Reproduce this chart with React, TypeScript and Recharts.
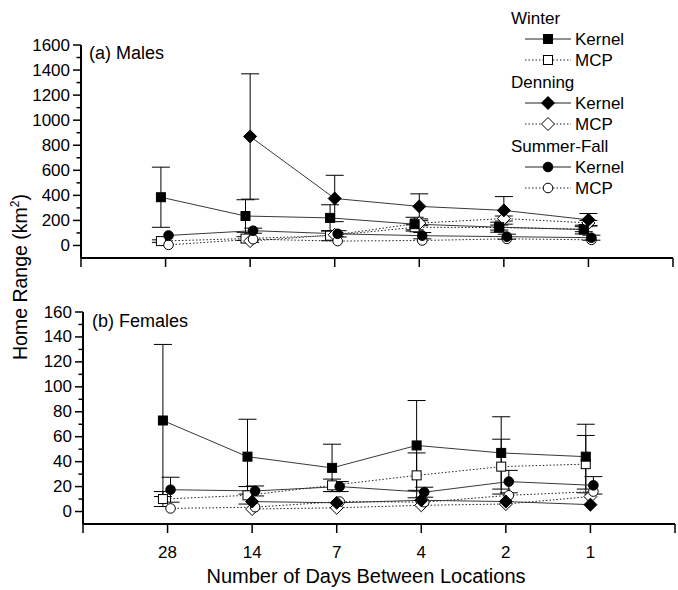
import React from 'react';
import { LineChart, Line, XAxis, YAxis, ErrorBar } from 'recharts';

// ---------- data ----------
const categories = ['28', '14', '7', '4', '2', '1'];
const xTicks = [0, 1, 2, 3, 4, 5, 6, 7];

const maleYTicks = [0, 100, 200, 300, 400, 500, 600, 700, 800, 900, 1000, 1100, 1200, 1300, 1400, 1500, 1600];
const femaleYTicks = [0, 10, 20, 30, 40, 50, 60, 70, 80, 90, 100, 110, 120, 130, 140, 150, 160];

// Males
const maleWinterKernel = [385, 235, 220, 170, 146, 127];
const maleWinterKernelErr = [240, 130, 105, 55, 40, 35];
const maleWinterMCP = [35, 55, 78, 145, 143, 130];
const maleWinterMCPErr = [10, 15, 40, 20, 20, 20];
const maleDenningKernel = [null, 870, 375, 312, 280, 205];
const maleDenningKernelErr = [0, 500, 185, 100, 110, 50];
const maleDenningMCP = [null, 35, 85, 178, 215, 180];
const maleDenningMCPErr = [0, 10, 15, 20, 20, 20];
const maleSummerKernel = [80, 118, 93, 78, 70, 62];
const maleSummerKernelErr = [0, 20, 25, 25, 20, 20];
const maleSummerMCP = [5, 50, 35, 40, 53, 45];
const maleSummerMCPErr = [0, 0, 0, 0, 0, 0];

// Females
const femaleWinterKernel = [73, 44, 35, 53, 47, 44];
const femaleWinterKernelErr = [61, 30, 19, 36, 29, 26];
const femaleWinterMCP = [10, 13, 21, 29, 36, 38];
const femaleWinterMCPErr = [6, 7, 5, 18, 22, 23];
const femaleDenningKernel = [null, 8, 7, 9, 8, 5.5];
const femaleDenningKernelErr = [0, 0, 0, 0, 0, 0];
const femaleDenningMCP = [null, 2, 3, 5, 6, 12];
const femaleDenningMCPErr = [0, 0, 0, 0, 0, 0];
const femaleSummerKernel = [17.5, 16.5, 20, 15.5, 24, 21];
const femaleSummerKernelErr = [10, 4, 4, 4, 9, 7];
const femaleSummerMCP = [2.5, 3.5, 8, 7.5, 13, 16];
const femaleSummerMCPErr = [0, 0, 0, 0, 0, 0];

// ---------- styles ----------
const FONT = 'Arial, "Liberation Sans", Helvetica, sans-serif';
const seasonOffset = { winter: -0.055, denning: 0, summer: 0.035 };

type Shape = 'square' | 'diamond' | 'circle';

const Marker = ({ cx, cy, shape, filled }: { cx: number; cy: number; shape: Shape; filled: boolean }) => {
  if (cx == null || cy == null || isNaN(cx) || isNaN(cy)) return null;
  const fill = filled ? '#000' : '#fff';
  const stroke = '#000';
  if (shape === 'square') {
    const s = 9;
    return <rect x={cx - s / 2} y={cy - s / 2} width={s} height={s} fill={fill} stroke={stroke} strokeWidth={1} />;
  }
  if (shape === 'diamond') {
    const s = 6.5;
    return (
      <polygon
        points={`${cx},${cy - s} ${cx + s},${cy} ${cx},${cy + s} ${cx - s},${cy}`}
        fill={fill}
        stroke={stroke}
        strokeWidth={1}
      />
    );
  }
  return <circle cx={cx} cy={cy} r={4.8} fill={fill} stroke={stroke} strokeWidth={1} />;
};

const build = (vals: (number | null)[], errs: number[], off: number) =>
  vals
    .map((v, i) => (v == null ? null : { x: i + 1 + off, y: v, e: errs[i] }))
    .filter((d) => d !== null) as { x: number; y: number; e: number }[];

type SeriesDef = {
  name: string;
  data: { x: number; y: number; e: number }[];
  shape: Shape;
  filled: boolean;
  dashed: boolean;
};

const makeSeries = (
  wk: (number | null)[], wke: number[], wm: (number | null)[], wme: number[],
  dk: (number | null)[], dke: number[], dm: (number | null)[], dme: number[],
  sk: (number | null)[], ske: number[], sm: (number | null)[], sme: number[]
): SeriesDef[] => [
  { name: 'wm', data: build(wm, wme, seasonOffset.winter), shape: 'square', filled: false, dashed: true },
  { name: 'dm', data: build(dm, dme, seasonOffset.denning), shape: 'diamond', filled: false, dashed: true },
  { name: 'sm', data: build(sm, sme, seasonOffset.summer), shape: 'circle', filled: false, dashed: true },
  { name: 'wk', data: build(wk, wke, seasonOffset.winter), shape: 'square', filled: true, dashed: false },
  { name: 'dk', data: build(dk, dke, seasonOffset.denning), shape: 'diamond', filled: true, dashed: false },
  { name: 'sk', data: build(sk, ske, seasonOffset.summer), shape: 'circle', filled: true, dashed: false },
];

const maleSeries = makeSeries(
  maleWinterKernel, maleWinterKernelErr, maleWinterMCP, maleWinterMCPErr,
  maleDenningKernel, maleDenningKernelErr, maleDenningMCP, maleDenningMCPErr,
  maleSummerKernel, maleSummerKernelErr, maleSummerMCP, maleSummerMCPErr
);
const femaleSeries = makeSeries(
  femaleWinterKernel, femaleWinterKernelErr, femaleWinterMCP, femaleWinterMCPErr,
  femaleDenningKernel, femaleDenningKernelErr, femaleDenningMCP, femaleDenningMCPErr,
  femaleSummerKernel, femaleSummerKernelErr, femaleSummerMCP, femaleSummerMCPErr
);

const makeYTick = (major: number) => (props: any) => {
  const { x, y, payload } = props;
  const v = payload.value;
  const isMajor = v % major === 0;
  return (
    <g>
      <line x1={x - (isMajor ? 8 : 4.5)} x2={x} y1={y} y2={y} stroke="#000" strokeWidth={1.5} />
      {isMajor && (
        <text x={x - 11} y={y} textAnchor="end" dominantBaseline="central" fontSize={17} fontFamily={FONT} fill="#000">
          {v}
        </text>
      )}
    </g>
  );
};

const makeXTick = (showLabels: boolean) => (props: any) => {
  const { x, y, payload } = props;
  const v = payload.value as number;
  const label = showLabels ? categories[v - 1] : undefined;
  return (
    <g>
      <line x1={x} x2={x} y1={y} y2={y + 9} stroke="#000" strokeWidth={1.5} />
      {label && (
        <text x={x} y={y + 28} textAnchor="middle" dominantBaseline="central" fontSize={17} fontFamily={FONT} fill="#000">
          {label}
        </text>
      )}
    </g>
  );
};

const renderLines = (series: SeriesDef[]) =>
  series.map((s) => (
    <Line
      key={s.name}
      data={s.data}
      dataKey="y"
      type="linear"
      stroke="#222"
      strokeWidth={s.dashed ? 1 : 0.9}
      strokeDasharray={s.dashed ? '1.5 2' : undefined}
      isAnimationActive={false}
      activeDot={false}
      dot={(p: any) => <Marker key={`${s.name}-${p.index}`} cx={p.cx} cy={p.cy} shape={s.shape} filled={s.filled} />}
    >
      <ErrorBar dataKey="e" direction="y" width={9} stroke="#000" strokeWidth={1} isAnimationActive={false} />
    </Line>
  ));

const LegendRow = ({ y, shape, filled, dashed, label }: { y: number; shape: Shape; filled: boolean; dashed: boolean; label: string }) => (
  <g>
    <line x1={525} x2={571} y1={y} y2={y} stroke="#222" strokeWidth={1} strokeDasharray={dashed ? '1.5 2' : undefined} />
    <Marker cx={548} cy={y} shape={shape} filled={filled} />
    <text x={575} y={y} dominantBaseline="central" fontSize={17} fontFamily={FONT} fill="#000">{label}</text>
  </g>
);

export default function App() {
  return (
    <div style={{ position: 'absolute', left: 0, top: 0, width: 678, height: 590, background: '#fff', overflow: 'hidden' }}>
      {/* (a) Males */}
      <div style={{ position: 'absolute', left: 0, top: 0 }}>
        <LineChart width={678} height={280} margin={{ top: 45, right: 5, left: 0, bottom: 0 }}>
          <XAxis
            dataKey="x"
            type="number"
            domain={[0, 7]}
            ticks={xTicks}
            interval={0}
            height={22}
            tickSize={0}
            tickMargin={0}
            tickLine={false}
            axisLine={{ stroke: '#000', strokeWidth: 2 }}
            tick={makeXTick(false)}
            allowDataOverflow
          />
          <YAxis
            type="number"
            domain={[-100, 1600]}
            ticks={maleYTicks}
            interval={0}
            width={81}
            tickSize={0}
            tickMargin={0}
            tickLine={false}
            axisLine={{ stroke: '#000', strokeWidth: 2 }}
            tick={makeYTick(200)}
            allowDataOverflow
          />
          {renderLines(maleSeries)}
        </LineChart>
      </div>

      {/* (b) Females */}
      <div style={{ position: 'absolute', left: 0, top: 290 }}>
        <LineChart width={678} height={300} margin={{ top: 22, right: 3, left: 0, bottom: 26 }}>
          <XAxis
            dataKey="x"
            type="number"
            domain={[0, 7]}
            ticks={xTicks}
            interval={0}
            height={40}
            tickSize={0}
            tickMargin={0}
            tickLine={false}
            axisLine={{ stroke: '#000', strokeWidth: 2 }}
            tick={makeXTick(true)}
            allowDataOverflow
          />
          <YAxis
            type="number"
            domain={[-10, 160]}
            ticks={femaleYTicks}
            interval={0}
            width={83}
            tickSize={0}
            tickMargin={0}
            tickLine={false}
            axisLine={{ stroke: '#000', strokeWidth: 2 }}
            tick={makeYTick(20)}
            allowDataOverflow
          />
          {renderLines(femaleSeries)}
        </LineChart>
      </div>

      {/* text overlay: titles, panel labels, legend */}
      <svg width={678} height={590} style={{ position: 'absolute', left: 0, top: 0, pointerEvents: 'none' }}>
        <text x={89} y={59} fontSize={18} fontFamily={FONT} fill="#000">(a) Males</text>
        <text x={92} y={327} fontSize={18} fontFamily={FONT} fill="#000">(b) Females</text>
        <text x={366} y={583} textAnchor="middle" fontSize={20} fontFamily={FONT} fill="#000">
          Number of Days Between Locations
        </text>
        <text x={27} y={277} textAnchor="middle" fontSize={19.5} fontFamily={FONT} fill="#000" transform="rotate(-90, 27, 277)">
          Home Range (km<tspan dy={-8} fontSize={12}>2</tspan><tspan dy={8}>)</tspan>
        </text>

        <text x={511} y={18} dominantBaseline="central" fontSize={17} fontFamily={FONT} fill="#000">Winter</text>
        <LegendRow y={39} shape="square" filled dashed={false} label="Kernel" />
        <LegendRow y={60} shape="square" filled={false} dashed label="MCP" />
        <text x={511} y={82} dominantBaseline="central" fontSize={17} fontFamily={FONT} fill="#000">Denning</text>
        <LegendRow y={103} shape="diamond" filled dashed={false} label="Kernel" />
        <LegendRow y={124} shape="diamond" filled={false} dashed label="MCP" />
        <text x={511} y={146} dominantBaseline="central" fontSize={17} fontFamily={FONT} fill="#000">Summer-Fall</text>
        <LegendRow y={167} shape="circle" filled dashed={false} label="Kernel" />
        <LegendRow y={188} shape="circle" filled={false} dashed label="MCP" />
      </svg>
    </div>
  );
}
